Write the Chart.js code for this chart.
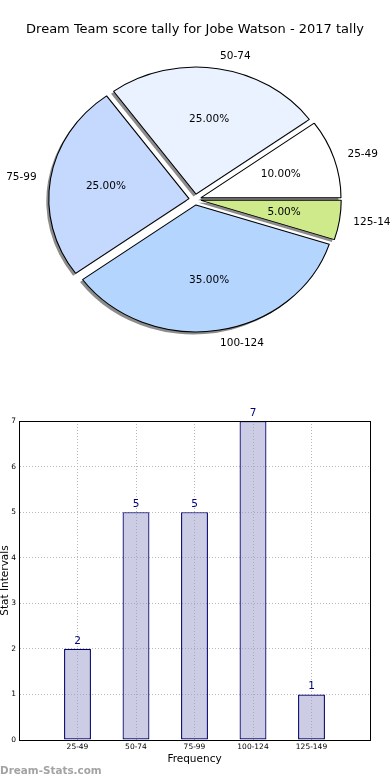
<!DOCTYPE html>
<html><head><meta charset="utf-8">
<script src="https://cdn.jsdelivr.net/npm/chart.js@4.4.0/dist/chart.umd.min.js"></script>
<style>
html,body{margin:0;padding:0;background:#fff;width:390px;height:780px;overflow:hidden;}
#c1{position:absolute;left:0;top:0;}
#c2{position:absolute;left:0;top:380px;}
#wm{position:absolute;left:0;top:764px;font-family:"DejaVu Sans";font-weight:bold;font-size:10.4px;line-height:12px;color:#a3a3a3;white-space:nowrap;}
</style></head><body>
<canvas id="c1" width="390" height="380"></canvas>
<canvas id="c2" width="390" height="400"></canvas>
<div id="wm">Dream-Stats.com</div>
<script>
const chartTitle = 'Dream Team score tally for Jobe Watson - 2017 tally';
const categories = ['25-49', '50-74', '75-99', '100-124', '125-149'];
const counts = [2, 5, 5, 7, 1];
const pieColors = ['#ffffff', '#eaf2ff', '#c5d9fe', '#b4d5fe', '#cfea8b'];
const xTitle = 'Frequency';
const yTitle = 'Stat Intervals';
const yMax = 7;

// Pie is drawn clockwise in Chart.js; reverse to reproduce the counter-clockwise order
const pieLabels = categories.slice().reverse();
const pieValues = counts.slice().reverse();
const pieCols = pieColors.slice().reverse();
const total = counts.reduce((a, b) => a + b, 0);

const SX = 1.104, EXPLODE = 5.5, SHX = -2.5, SHY = 2.5;
const pieFx = {
  id: 'pieFx',
  beforeDatasetDraw(chart, args) {
    const ctx = chart.ctx;
    const arcs = args.meta.data;
    const cx = arcs[0].x, cy = arcs[0].y;
    ctx.save();
    ctx.translate(cx, cy); ctx.scale(SX, 1); ctx.translate(-cx, -cy);
    ctx.fillStyle = '#8c8c8c';
    arcs.forEach(a => {
      const m = (a.startAngle + a.endAngle) / 2;
      const ox = a.x + Math.cos(m) * EXPLODE + SHX / SX, oy = a.y + Math.sin(m) * EXPLODE + SHY;
      ctx.beginPath(); ctx.moveTo(ox, oy);
      ctx.arc(ox, oy, a.outerRadius, a.startAngle, a.endAngle);
      ctx.closePath(); ctx.fill();
    });
    arcs.forEach(a => {
      const m = (a.startAngle + a.endAngle) / 2;
      ctx.save();
      ctx.translate(Math.cos(m) * EXPLODE, Math.sin(m) * EXPLODE);
      a.draw(ctx, chart.chartArea);
      ctx.restore();
    });
    ctx.restore();
    ctx.save();
    ctx.font = '10.5px "DejaVu Sans"';
    ctx.fillStyle = '#000';
    ctx.textBaseline = 'middle';
    arcs.forEach((a, i) => {
      const m = (a.startAngle + a.endAngle) / 2;
      const c = Math.cos(m), s = Math.sin(m), R = a.outerRadius;
      const lx = cx + (1.1 * R + EXPLODE) * c * SX, ly = cy + (1.1 * R + EXPLODE) * s;
      ctx.textAlign = c > 0 ? 'left' : 'right';
      ctx.fillText(pieLabels[i], lx, ly);
      const px = cx + (0.6 * R + EXPLODE) * c * SX, py = cy + (0.6 * R + EXPLODE) * s;
      ctx.textAlign = 'center';
      ctx.fillText((pieValues[i] / total * 100).toFixed(2) + '%', px, py);
    });
    ctx.restore();
    return false;
  }
};

new Chart(document.getElementById('c1'), {
  type: 'pie',
  data: {
    labels: pieLabels,
    datasets: [{ data: pieValues, backgroundColor: pieCols, borderColor: '#000', borderWidth: 1, hoverOffset: 0, offset: 0 }]
  },
  options: {
    responsive: false, animation: false, rotation: 90, radius: 127,
    layout: { padding: { top: 0, bottom: 23.6, left: 0, right: 0 } },
    plugins: {
      legend: { display: false }, tooltip: { enabled: false },
      title: { display: true, text: chartTitle, color: '#000',
        font: { family: 'DejaVu Sans', size: 13, weight: 'normal', lineHeight: 1.2 },
        padding: { top: 22, bottom: 5 } }
    }
  },
  plugins: [pieFx]
});

const barFx = {
  id: 'barFx',
  afterDatasetsDraw(chart) {
    const ctx = chart.ctx;
    const meta = chart.getDatasetMeta(0);
    ctx.save();
    ctx.font = '10.5px "DejaVu Sans"';
    ctx.fillStyle = '#000080';
    ctx.textAlign = 'center';
    ctx.textBaseline = 'alphabetic';
    meta.data.forEach((b, i) => ctx.fillText(String(counts[i]), b.x, b.y - 5));
    ctx.restore();
  },
  afterDraw(chart) {
    const ctx = chart.ctx, a = chart.chartArea;
    ctx.save();
    ctx.strokeStyle = '#000'; ctx.lineWidth = 1;
    ctx.strokeRect(Math.floor(a.left) + 0.5, Math.floor(a.top) + 0.5, Math.round(a.right - a.left), Math.round(a.bottom - a.top));
    ctx.restore();
  }
};

const gridCol = '#b8b8b8';
new Chart(document.getElementById('c2'), {
  type: 'bar',
  data: {
    datasets: [{
      data: counts.map((v, i) => ({ x: i + 1, y: v })),
      backgroundColor: 'rgba(153,153,204,0.5)', borderColor: '#00006e', borderWidth: 1.2,
      borderSkipped: false, barPercentage: 0.46, categoryPercentage: 1
    }]
  },
  options: {
    responsive: false, animation: false,
    layout: { padding: { top: 41, right: 20, left: 0, bottom: 0 } },
    plugins: { legend: { display: false }, tooltip: { enabled: false } },
    scales: {
      x: {
        type: 'linear', min: 0, max: categories.length + 1, offset: false,
        afterFit(s) { s.height = 40; },
        grid: { offset: false, drawTicks: false, lineWidth: 1,
          color: c => (c.tick && c.tick.value > 0 && c.tick.value <= categories.length) ? gridCol : 'rgba(0,0,0,0)' },
        border: { display: true, color: '#000', width: 1, dash: [1, 2] },
        ticks: { stepSize: 1, autoSkip: false, maxRotation: 0, padding: 3, color: '#000',
          font: { family: 'DejaVu Sans', size: 7.5 },
          callback: v => categories[v - 1] ?? '' },
        title: { display: true, text: xTitle, color: '#000',
          font: { family: 'DejaVu Sans', size: 10.5, lineHeight: 1 }, padding: { top: 0, bottom: 15.75 } }
      },
      y: {
        min: 0, max: yMax,
        afterFit(s) { s.width = 19; },
        grid: { drawTicks: false, lineWidth: 1,
          color: c => (c.tick && c.tick.value > 0 && c.tick.value < yMax) ? gridCol : 'rgba(0,0,0,0)' },
        border: { display: true, color: '#000', width: 1, dash: [1, 2] },
        ticks: { stepSize: 1, padding: 3, color: '#000', font: { family: 'DejaVu Sans', size: 7.5 } },
        title: { display: true, text: yTitle, color: '#000',
          font: { family: 'DejaVu Sans', size: 10.5, lineHeight: 1 }, padding: 0 }
      }
    }
  },
  plugins: [barFx]
});
</script>
</body></html>
